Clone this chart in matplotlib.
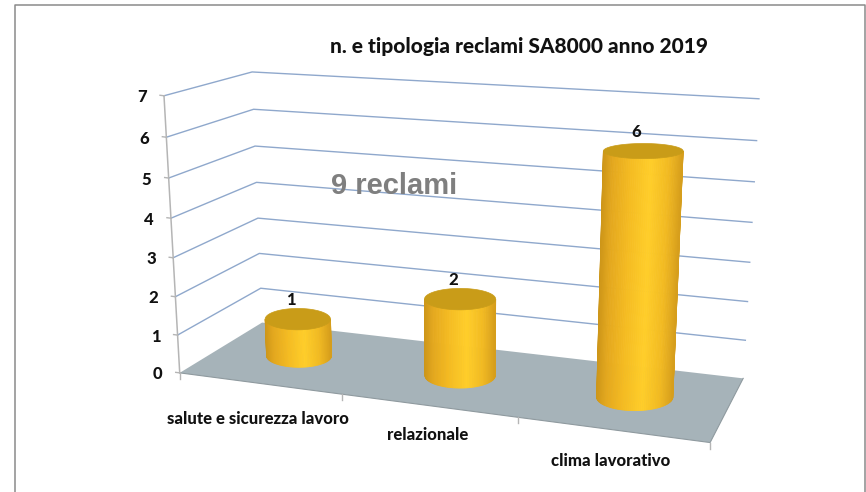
import numpy as np
import matplotlib
matplotlib.use("Agg")
import matplotlib.pyplot as plt
from matplotlib.collections import PolyCollection
from matplotlib.patches import Polygon

categories = ["salute e sicurezza lavoro", "relazionale", "clima lavorativo"]
values = [1, 2, 6]
y_ticks = [0, 1, 2, 3, 4, 5, 6, 7]

title = "n. e tipologia reclami SA8000 anno 2019"
note = "9 reclami"

# where the box of the 3D chart sits in the picture: (x, depth, value) -> pixel
box_3d = [(0, 0, 0), (0, 0, 7), (0, 1, 0), (0, 1, 7), (3, 1, 0), (3, 1, 7), (3, 0, 0),
          (0, 1, 3), (3, 1, 3), (0, 0, 3)]
box_px = [(180, 373), (164, 96), (262, 323), (252, 72), (743, 378), (759, 99), (710, 443),
          (258, 218), (750, 262), (173, 257)]


def fit_camera(pts3, pts2):
    rows = []
    for (x, y, z), (u, v) in zip(pts3, pts2):
        rows.append([x, y, z, 1, 0, 0, 0, 0, -u*x, -u*y, -u*z, -u])
        rows.append([0, 0, 0, 0, x, y, z, 1, -v*x, -v*y, -v*z, -v])
    return np.linalg.svd(np.array(rows, float))[2][-1].reshape(3, 4)


cam = fit_camera(box_3d, box_px)


def proj(x, y, z):
    x, y, z = np.broadcast_arrays(x, y, z)
    p = cam @ np.array([x.ravel(), y.ravel(), z.ravel(), np.ones(x.size)], float)
    return np.column_stack([p[0]/p[2], p[1]/p[2]])


# level ellipse for a cylinder end (the chart keeps them horizontal on screen)
def disc(cx, z, t):
    c = proj(cx, 0.5, z)[0]
    half_w = np.linalg.norm(proj(cx + r_x, 0.5, z)[0] - proj(cx - r_x, 0.5, z)[0]) / 2
    half_h = abs(proj(cx, 0.5 - r_y, z)[0, 1] - proj(cx, 0.5 + r_y, z)[0, 1]) / 2
    return np.column_stack([c[0] + half_w*np.cos(t), c[1] + half_h*np.sin(t)])


fig = plt.figure(figsize=(8.66, 4.92), dpi=100)
ax = fig.add_axes([0, 0, 1, 1])
ax.set_xlim(0, 866)
ax.set_ylim(492, 0)
ax.axis('off')

text_style = dict(ha='center', va='center', fontweight=900, family='Lato', color='#111111', zorder=6)

# slide border
ax.plot([14.5, 14.5, 864.5, 864.5], [492, 4.5, 4.5, 492], color='#8a8a8a', lw=1.1)

# gridlines
grid_col = '#8fa8cc'
for v in y_ticks[1:]:
    pts = proj([0, 0, 3], [0, 1, 1], v)
    ax.plot(pts[:, 0], pts[:, 1], color=grid_col, lw=1.0, zorder=1)

# floor
ax.add_patch(Polygon(proj([0, 0, 3, 3], [0, 1, 1, 0], 0), fc='#a6b3b9', ec='none', zorder=2))
pts = proj([0, 3, 3], [0, 0, 1], 0)
ax.plot(pts[:, 0], pts[:, 1], color='#8f9a9f', lw=0.8, zorder=2)

# axis line, ticks
pts = proj(0, 0, np.array([0, 7]))
ax.plot(pts[:, 0], pts[:, 1], color='#b5b5b5', lw=1.1, zorder=2)
for v in y_ticks:
    px, py = proj(0, 0, v)[0]
    ax.plot([px-4, px], [py-0.5, py], color='#b5b5b5', lw=1.0, zorder=2)
    ax.text(px-22, py+1.5, str(v), fontsize=12, **text_style)
for i in range(4):
    px, py = proj(i, 0, 0)[0]
    ax.plot([px, px], [py, py+6], color='#b5b5b5', lw=1.0, zorder=2)

# cylinders
r_x, r_y = 0.208, 0.22
stops = [-1, -0.75, -0.3, 0.2, 0.65, 1]
shade = np.array([[205, 150, 25], [228, 168, 30], [245, 188, 34],
                  [255, 206, 42], [242, 186, 34], [214, 158, 28]])
theta = np.linspace(np.pi, 0, 61)
ring = np.linspace(0, 2*np.pi, 121)
for i, val in enumerate(values):
    cx = i + 0.5
    low = disc(cx, 0, theta)
    high = disc(cx, val, theta)
    quads = [[low[k], low[k+1], high[k+1], high[k]] for k in range(len(theta)-1)]
    mid = np.cos((theta[:-1] + theta[1:]) / 2)
    cols = np.column_stack([np.interp(mid, stops, shade[:, c]) for c in range(3)]) / 255
    ax.add_collection(PolyCollection(quads, facecolors=cols, edgecolors=cols, lw=0.6, zorder=3+i*0.1))
    ax.add_patch(Polygon(disc(cx, val, ring), fc='#c99c18', ec='#c99c18', lw=0.5, zorder=3.05+i*0.1))
    centre = proj(cx, 0.5, val)[0]
    ax.text(centre[0]-7, centre[1]-19.5, str(val), fontsize=12, **text_style)

# texts
ax.text(518.5, 46, title, fontsize=15, **text_style)
ax.text(394, 186, note, ha='center', va='center', fontsize=21, fontweight='bold',
        family='Liberation Sans', color='#7f7f7f', zorder=6)

label_x = [258, 427.5, 611]
label_y = [419, 435, 461]
for name, lx, ly in zip(categories, label_x, label_y):
    ax.text(lx, ly, name, fontsize=12, **text_style)

fig.savefig('out.png', dpi=100, facecolor='white')
